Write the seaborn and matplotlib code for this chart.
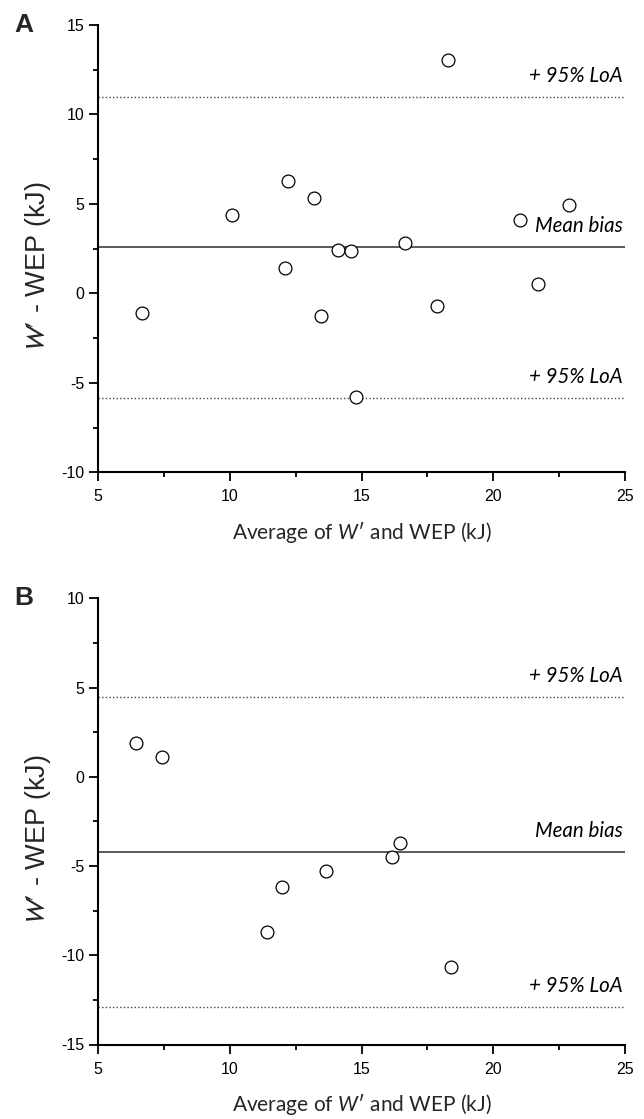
import numpy as np
import pandas as pd
import matplotlib
matplotlib.use("Agg")
import matplotlib.pyplot as plt
import seaborn as sns
from matplotlib.ticker import MultipleLocator

# ---- data ----
a_avg = [6.68, 10.07, 12.10, 12.22, 13.20, 13.46, 14.12, 14.60, 14.78, 16.65, 17.85, 18.30, 21.00, 21.71, 22.89]
a_diff = [-1.10, 4.36, 1.43, 6.28, 5.31, -1.29, 2.40, 2.36, -5.80, 2.81, -0.71, 13.07, 4.12, 0.50, 4.96]
a_bias = 2.6
a_loa_upper = 11.0
a_loa_lower = -5.85

b_avg = [6.44, 7.42, 11.40, 11.97, 13.65, 16.15, 16.46, 18.38]
b_diff = [1.87, 1.09, -8.72, -6.17, -5.29, -4.52, -3.73, -10.68]
b_bias = -4.2
b_loa_upper = 4.47
b_loa_lower = -12.88

panel_letters = ["A", "B"]
y_limits = [(-10, 15), (-15, 10)]
x_limits = (5, 25)
x_ticks = [5, 10, 15, 20, 25]
y_ticks = [[-10, -5, 0, 5, 10, 15], [-15, -10, -5, 0, 5, 10]]
loa_label = "+ 95% LoA"
bias_label = "Mean bias"

sns.set_style("ticks")
plt.rcParams["font.family"] = ["Liberation Sans", "DejaVu Sans"]
plt.rcParams["axes.unicode_minus"] = False
plt.rcParams["mathtext.fontset"] = "custom"
plt.rcParams["mathtext.rm"] = "Lato"
plt.rcParams["mathtext.it"] = "Lato:italic"

W, H = 644, 1119
fig = plt.figure(figsize=(W / 100, H / 100), dpi=100)

def frac_rect(left_px, top_px, right_px, bottom_px):
    return [left_px / W, 1 - bottom_px / H, (right_px - left_px) / W, (bottom_px - top_px) / H]

axA = fig.add_axes(frac_rect(98, 25, 625, 472.3))
axB = fig.add_axes(frac_rect(98, 598.3, 625, 1044.5))

panels = [
    (axA, a_avg, a_diff, a_bias, a_loa_upper, a_loa_lower),
    (axB, b_avg, b_diff, b_bias, b_loa_upper, b_loa_lower),
]

label_font = ["Lato", "DejaVu Sans"]

for i, (ax, xs, ys, bias, up, lo) in enumerate(panels):
    df = pd.DataFrame({"avg": xs, "diff": ys})
    ax.axhline(bias, color="#4d4d4d", lw=1.3, zorder=1)
    ax.axhline(up, color="#444444", lw=1.0, ls=(0, (1, 1.6)), zorder=1)
    ax.axhline(lo, color="#444444", lw=1.0, ls=(0, (1, 1.6)), zorder=1)
    sns.scatterplot(data=df, x="avg", y="diff", ax=ax, s=85, marker="o",
                    facecolor="white", edgecolor="black", linewidth=0.9, zorder=3)

    ax.set_xlim(*x_limits)
    ax.set_ylim(*y_limits[i])
    ax.set_xticks(x_ticks)
    ax.set_yticks(y_ticks[i])
    ax.xaxis.set_minor_locator(MultipleLocator(2.5))
    ax.yaxis.set_minor_locator(MultipleLocator(2.5))
    sns.despine(ax=ax)
    for sp in ["left", "bottom"]:
        ax.spines[sp].set_linewidth(1.5)
        ax.spines[sp].set_color("black")
    ax.tick_params(axis="both", which="major", length=6.3, width=1.3, color="black",
                   labelsize=11.5, labelcolor="black")
    ax.tick_params(axis="x", which="major", pad=6.0)
    ax.tick_params(axis="y", which="major", pad=3.5)
    ax.tick_params(axis="both", which="minor", length=3.8, width=1.3, color="black")

    for t in ax.get_xticklabels() + ax.get_yticklabels():
        t.set_family(["Liberation Sans", "DejaVu Sans"])

    ax.set_xlabel(r"Average of $W$′ and WEP (kJ)", fontsize=15, family=label_font)
    ax.xaxis.set_label_coords(0.5, -0.134)
    ax.xaxis.label.set_va("center")
    ylab = ax.set_ylabel(r"$W′$ - WEP (kJ)", fontsize=19.5,
                         family=["Liberation Sans", "DejaVu Sans"])
    ylab.set_math_fontfamily("stixsans")
    ax.yaxis.set_label_coords(-0.114, 0.459)
    ax.yaxis.label.set_va("center")

    for yv, txt in [(up, loa_label), (bias, bias_label), (lo, loa_label)]:
        ax.annotate(txt, xy=(24.92, yv), xytext=(0, 15), textcoords="offset points",
                    ha="right", va="center", fontsize=14.8, style="italic",
                    family=["Lato", "DejaVu Sans"], color="black")

    ax.text(-0.158, 1.0, panel_letters[i], transform=ax.transAxes, fontsize=19,
            fontweight="bold", ha="left", va="center",
            family=["Liberation Sans", "DejaVu Sans"])

fig.savefig("out.png", dpi=100)
